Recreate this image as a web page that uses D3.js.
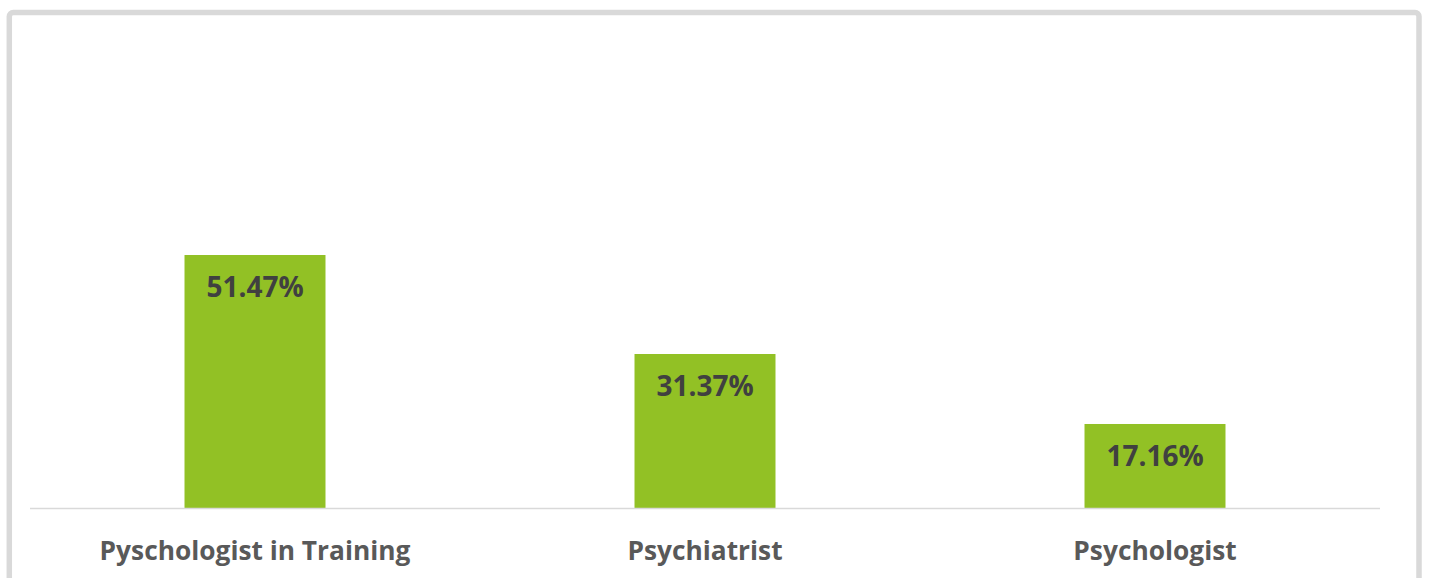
<!DOCTYPE html>
<html><head><meta charset="utf-8">
<script src="https://cdn.jsdelivr.net/npm/d3@7"></script>
<style>body{margin:0;background:#fff}svg{display:block}</style>
</head><body>
<svg id="c" width="1429" height="578"></svg>
<script>
const categories = ["Pyschologist in Training", "Psychiatrist", "Psychologist"];
const values = [51.47, 31.37, 17.16];
const valueLabels = ["51.47%", "31.37%", "17.16%"];

const svg = d3.select("#c");

svg.append("rect").attr("x", 9.3).attr("y", 12.5).attr("width", 1409.7).attr("height", 640)
  .attr("rx", 4).attr("fill", "#fff").attr("stroke", "#d9d9d9").attr("stroke-width", 5.5);

const x = d3.scaleBand().domain(categories).range([30, 1380]).paddingInner(0.6867).paddingOuter(0.6867/2);
const y = d3.scaleLinear().domain([0, 60]).range([508.5, 213]);

svg.selectAll("rect.bar").data(values).enter().append("rect").attr("class","bar")
  .attr("x", (d,i) => x(categories[i])).attr("width", x.bandwidth())
  .attr("y", d => y(d)).attr("height", d => y(0) - y(d)).attr("fill", "#92c125");

svg.append("line").attr("x1", 30).attr("x2", 1380).attr("y1", 508.5).attr("y2", 508.5)
  .attr("stroke", "#d9d9d9").attr("stroke-width", 1.5);

svg.selectAll("text.val").data(values).enter().append("text").attr("class","val")
  .attr("x", (d,i) => x(categories[i]) + x.bandwidth()/2).attr("y", d => y(d) + 42)
  .attr("text-anchor","middle").attr("font-family","'Open Sans', sans-serif").attr("font-weight","bold")
  .attr("font-size", 28).attr("fill","#404040").text((d,i) => valueLabels[i]);

const ax = svg.append("g").attr("transform","translate(0,508.5)")
  .call(d3.axisBottom(x).tickSize(0).tickPadding(0));
ax.select(".domain").remove();
ax.selectAll("text").attr("y", 51).attr("dy", null).attr("font-family","'Open Sans', sans-serif")
  .attr("font-weight","bold").attr("font-size", 26.3).attr("fill","#595959");
</script>
</body></html>
